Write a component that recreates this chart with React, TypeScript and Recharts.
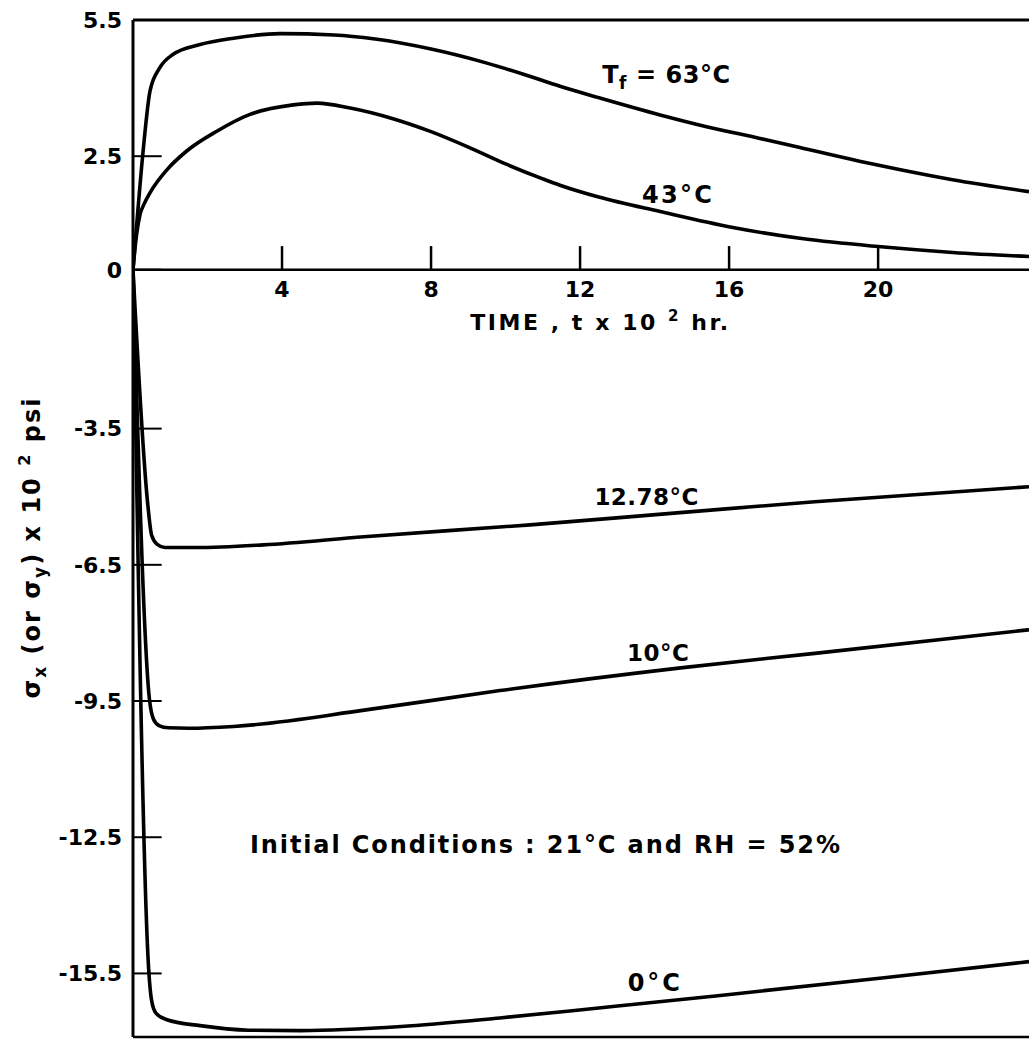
import type { ReactNode } from 'react';
import { LineChart, Line, XAxis, YAxis, ReferenceLine, ReferenceDot } from 'recharts';

type Pt = { t: number; v: number };

// time in units of 10^2 hr, stress in units of 10^2 psi
const curve63: Pt[] = [
  { t: 0, v: 0 }, { t: 0.1, v: 1.0 }, { t: 0.27, v: 2.6 }, { t: 0.46, v: 3.95 },
  { t: 0.72, v: 4.45 }, { t: 1.07, v: 4.74 }, { t: 1.8, v: 4.96 }, { t: 2.7, v: 5.1 },
  { t: 3.95, v: 5.2 }, { t: 5.4, v: 5.17 }, { t: 6.5, v: 5.08 }, { t: 8, v: 4.86 },
  { t: 9.5, v: 4.55 }, { t: 10.5, v: 4.3 }, { t: 11.46, v: 4.04 }, { t: 12.5, v: 3.79 },
  { t: 14.15, v: 3.41 }, { t: 15.2, v: 3.19 }, { t: 16.83, v: 2.89 }, { t: 17.9, v: 2.69 },
  { t: 19.5, v: 2.39 }, { t: 20.6, v: 2.2 }, { t: 22, v: 1.98 }, { t: 24.05, v: 1.72 },
];

const curve43: Pt[] = [
  { t: 0, v: 0 }, { t: 0.05, v: 0.45 }, { t: 0.1, v: 0.8 }, { t: 0.19, v: 1.22 },
  { t: 0.3, v: 1.45 }, { t: 0.46, v: 1.7 }, { t: 0.91, v: 2.2 }, { t: 1.45, v: 2.62 },
  { t: 2.25, v: 3.05 }, { t: 3.14, v: 3.42 }, { t: 4.3, v: 3.63 }, { t: 4.94, v: 3.67 },
  { t: 5.83, v: 3.56 }, { t: 7, v: 3.32 }, { t: 8, v: 3.04 }, { t: 9, v: 2.7 },
  { t: 10, v: 2.33 }, { t: 11, v: 2.0 }, { t: 11.46, v: 1.86 }, { t: 12.5, v: 1.6 },
  { t: 14.15, v: 1.28 }, { t: 16.1, v: 0.93 }, { t: 18, v: 0.68 }, { t: 20, v: 0.51 },
  { t: 22, v: 0.38 }, { t: 24.05, v: 0.29 },
];

const curve1278: Pt[] = [
  { t: 0, v: 0 }, { t: 0.4, v: -5.2 }, { t: 0.5, v: -5.85 }, { t: 0.65, v: -6.05 },
  { t: 0.86, v: -6.12 }, { t: 1.7, v: -6.12 }, { t: 3.5, v: -6.06 }, { t: 6.2, v: -5.88 },
  { t: 10.66, v: -5.62 }, { t: 14.68, v: -5.35 }, { t: 18.3, v: -5.11 }, { t: 24.05, v: -4.78 },
];

const curve10: Pt[] = [
  { t: 0, v: 0 }, { t: 0.44, v: -9.45 }, { t: 0.55, v: -9.9 }, { t: 0.7, v: -10.04 },
  { t: 0.95, v: -10.09 }, { t: 1.5, v: -10.1 }, { t: 2.7, v: -10.06 }, { t: 6.3, v: -9.69 },
  { t: 9.85, v: -9.27 }, { t: 14.7, v: -8.77 }, { t: 18.3, v: -8.45 }, { t: 24.05, v: -7.93 },
];

const curve0: Pt[] = [
  { t: 0, v: 0 }, { t: 0.42, v: -15.4 }, { t: 0.5, v: -16.1 }, { t: 0.62, v: -16.38 },
  { t: 0.91, v: -16.52 }, { t: 1.8, v: -16.65 }, { t: 3.1, v: -16.75 }, { t: 4.5, v: -16.76 },
  { t: 7.2, v: -16.67 }, { t: 9.85, v: -16.48 }, { t: 12.5, v: -16.26 }, { t: 15.7, v: -15.99 },
  { t: 20.1, v: -15.6 }, { t: 24.05, v: -15.24 },
];

const series = [curve63, curve43, curve1278, curve10, curve0];

const xTicks = [4, 8, 12, 16, 20];
const yTicks = [5.5, 2.5, 0, -3.5, -6.5, -9.5, -12.5, -15.5];
const xDomain: [number, number] = [0, 24.05];
const yDomain: [number, number] = [-16.9, 5.5];

const FONT = '"DejaVu Sans", "Liberation Sans", sans-serif';
const INK = '#000';

type NoteOpts = { size?: number; width?: number; anchor?: 'start' | 'middle' | 'end'; dy?: number };

// label renderer for text anchored on a data point
function note(content: ReactNode, opts: NoteOpts = {}) {
  return (props: any) => {
    const vb = props.viewBox ?? {};
    const x = vb.x ?? props.x;
    const y = (vb.y ?? props.y) + (opts.dy ?? 0);
    return (
      <text
        x={x}
        y={y}
        textAnchor={opts.anchor ?? 'middle'}
        fontFamily={FONT}
        fontWeight="bold"
        fontSize={opts.size ?? 24}
        fill={INK}
        textLength={opts.width}
        lengthAdjust={opts.width ? 'spacing' : undefined}
      >
        {content}
      </text>
    );
  };
}

function yTitle(props: any) {
  const vb = props.viewBox;
  const cx = vb.x + 40;
  const cy = vb.y + vb.height / 2 + 20;
  return (
    <text
      x={cx}
      y={cy}
      transform={`rotate(-90 ${cx} ${cy})`}
      textAnchor="middle"
      fontFamily={FONT}
      fontWeight="bold"
      fontSize={24}
      fill={INK}
      textLength={300}
      lengthAdjust="spacing"
    >
      σ<tspan dy={6} fontSize={17}>x</tspan>
      <tspan dy={-6}>{' (or σ'}</tspan>
      <tspan dy={6} fontSize={17}>y</tspan>
      <tspan dy={-6}>{') x 10 '}</tspan>
      <tspan dy={-10} fontSize={16}>2</tspan>
      <tspan dy={10}>{' psi'}</tspan>
    </text>
  );
}

export default function App() {
  return (
    <div style={{ position: 'absolute', left: 0, top: 0, width: 1029, height: 1039, overflow: 'hidden', background: '#fff' }}>
      <LineChart width={1029} height={1039} margin={{ top: 20, right: 0, bottom: 2, left: 0 }}>
        <XAxis type="number" dataKey="t" domain={xDomain} allowDataOverflow hide />
        <YAxis
          type="number"
          domain={yDomain}
          allowDataOverflow
          ticks={yTicks}
          interval={0}
          width={133}
          tickLine={false}
          tickSize={0}
          tickMargin={11}
          axisLine={{ stroke: INK, strokeWidth: 3 }}
          tick={{ fill: INK, fontSize: 22, fontWeight: 'bold', fontFamily: FONT }}
          label={yTitle}
        />

        {/* frame */}
        <ReferenceLine y={yDomain[1]} stroke={INK} strokeWidth={3} />
        <ReferenceLine y={yDomain[0]} stroke={INK} strokeWidth={2.5} />

        {/* time axis drawn through zero */}
        <ReferenceLine y={0} stroke={INK} strokeWidth={2.5} />
        {xTicks.map((t) => (
          <ReferenceLine key={`xt${t}`} segment={[{ x: t, y: 0 }, { x: t, y: 0.52 }]} stroke={INK} strokeWidth={2.5} />
        ))}
        {xTicks.map((t) => (
          <ReferenceDot key={`xl${t}`} x={t} y={0} r={0} fill="none" stroke="none" label={note(String(t), { size: 22, dy: 27 })} />
        ))}
        {yTicks.map((v) => (
          <ReferenceLine key={`yt${v}`} segment={[{ x: 0, y: v }, { x: 0.77, y: v }]} stroke={INK} strokeWidth={2} />
        ))}

        {series.map((data, i) => (
          <Line
            key={i}
            data={data}
            dataKey="v"
            type="monotone"
            stroke={INK}
            strokeWidth={3.6}
            dot={false}
            activeDot={false}
            isAnimationActive={false}
          />
        ))}

        <ReferenceDot
          x={9.05}
          y={-1.33}
          r={0}
          fill="none"
          stroke="none"
          label={note(
            <>
              {'TIME , t x 10 '}
              <tspan dy={-9} fontSize={15}>2</tspan>
              <tspan dy={9}>{'  hr.'}</tspan>
            </>,
            { size: 22, anchor: 'start', width: 258 },
          )}
        />
        <ReferenceDot
          x={14.31}
          y={4.11}
          r={0}
          fill="none"
          stroke="none"
          label={note(
            <>
              T<tspan dy={6} fontSize={17}>f</tspan>
              <tspan dy={-6}>{' = 63°C'}</tspan>
            </>,
            { width: 128 },
          )}
        />
        <ReferenceDot x={14.6} y={1.47} r={0} fill="none" stroke="none" label={note('43°C', { width: 70 })} />
        <ReferenceDot x={13.78} y={-5.18} r={0} fill="none" stroke="none" label={note('12.78°C', { size: 23, width: 104 })} />
        <ReferenceDot x={14.09} y={-8.62} r={0} fill="none" stroke="none" label={note('10°C', { size: 23, width: 62 })} />
        <ReferenceDot
          x={3.14}
          y={-12.85}
          r={0}
          fill="none"
          stroke="none"
          label={note('Initial Conditions : 21°C and RH = 52%', { anchor: 'start', width: 590 })}
        />
        <ReferenceDot x={13.98} y={-15.89} r={0} fill="none" stroke="none" label={note('0°C', { width: 52 })} />
      </LineChart>
    </div>
  );
}
